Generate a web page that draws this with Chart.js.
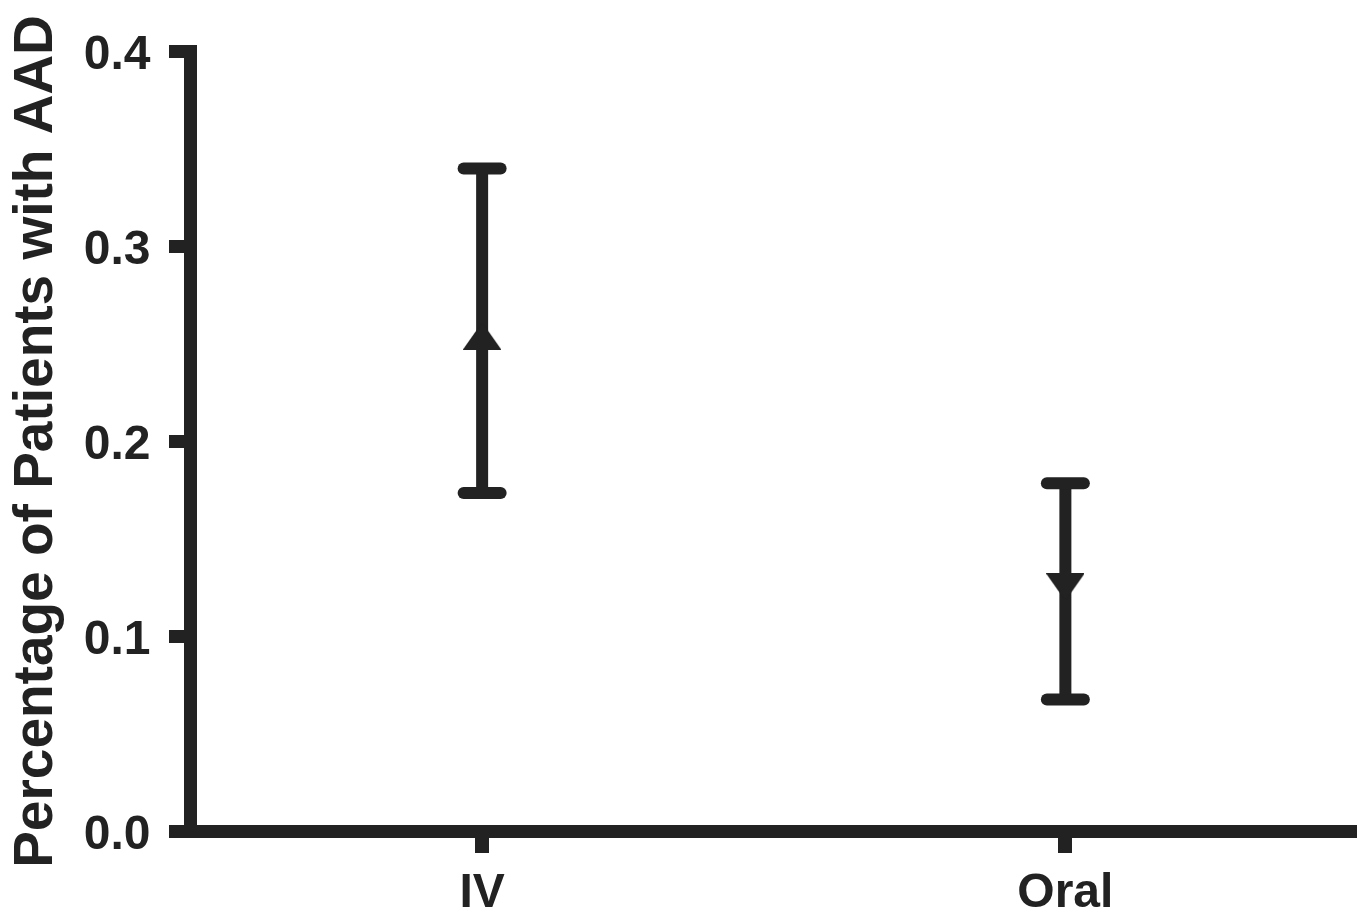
<!DOCTYPE html>
<html>
<head>
<meta charset="utf-8">
<script src="https://cdn.jsdelivr.net/npm/chart.js@4.4.1/dist/chart.umd.min.js"></script>
<style>
  html, body { margin: 0; padding: 0; background: #ffffff; }
  #wrap { width: 1365px; height: 916px; position: relative; }
</style>
</head>
<body>
<div id="wrap"><canvas id="c" width="1365" height="916"></canvas></div>
<script>
// ---- data ----
const categories = ['IV', 'Oral'];
const meanValues = [0.254, 0.1255];
const upperValues = [0.340, 0.1786];
const lowerValues = [0.1736, 0.0677];
const yTickValues = [0.0, 0.1, 0.2, 0.3, 0.4];
const yTitle = 'Percentage of Patients with AAD';

const INK = '#222222';
const FONT = '"Liberation Sans", Arial, Helvetica, sans-serif';

function makeTriangle(up) {
  const w = 38, h = 27;
  const cv = document.createElement('canvas');
  cv.width = w; cv.height = h;
  const g = cv.getContext('2d');
  g.fillStyle = INK;
  g.beginPath();
  if (up) { g.moveTo(w / 2, 0); g.lineTo(w, h); g.lineTo(0, h); }
  else { g.moveTo(0, 0); g.lineTo(w, 0); g.lineTo(w / 2, h); }
  g.closePath();
  g.fill();
  return cv;
}
const markerStyles = [makeTriangle(true), makeTriangle(false)];

const errorBarPlugin = {
  id: 'errorBars',
  afterDatasetsDraw(chart) {
    const ctx = chart.ctx;
    const xs = chart.scales.x, ys = chart.scales.y;
    ctx.save();
    ctx.strokeStyle = INK;
    ctx.lineWidth = 12;
    categories.forEach((c, i) => {
      const x = xs.getPixelForValue(i);
      const yU = ys.getPixelForValue(upperValues[i]);
      const yL = ys.getPixelForValue(lowerValues[i]);
      ctx.lineCap = 'butt';
      ctx.beginPath(); ctx.moveTo(x, yU); ctx.lineTo(x, yL); ctx.stroke();
      ctx.lineCap = 'round';
      ctx.beginPath(); ctx.moveTo(x - 18.5, yU); ctx.lineTo(x + 18.5, yU); ctx.stroke();
      ctx.beginPath(); ctx.moveTo(x - 18.5, yL); ctx.lineTo(x + 18.5, yL); ctx.stroke();
    });
    const meta = chart.getDatasetMeta(0);
    meta.data.forEach((pt, i) => {
      const img = markerStyles[i];
      ctx.drawImage(img, pt.x - img.width / 2, pt.y - img.height / 2);
    });
    ctx.restore();
  },
  afterDraw(chart) {
    // trim the x-axis line so it ends exactly at the plot's right edge
    const a = chart.chartArea;
    const ctx = chart.ctx;
    ctx.save();
    ctx.fillStyle = '#ffffff';
    ctx.fillRect(a.right, a.bottom - 10, chart.width - a.right, 20);
    ctx.restore();
  }
};

new Chart(document.getElementById('c'), {
  type: 'line',
  data: {
    labels: categories,
    datasets: [{
      data: meanValues,
      showLine: false,
      pointStyle: markerStyles,
      pointRadius: 19,
      pointHoverRadius: 19,
      borderColor: INK,
      backgroundColor: INK
    }]
  },
  options: {
    responsive: false,
    animation: false,
    events: [],
    layout: { autoPadding: false, padding: { top: 51.5, right: 8, left: 0, bottom: 0 } },
    plugins: { legend: { display: false }, tooltip: { enabled: false } },
    scales: {
      x: {
        type: 'category',
        offset: true,
        border: { display: true, width: 13, color: INK },
        grid: { display: true, drawOnChartArea: false, drawTicks: true, tickLength: 21.5, lineWidth: 14, color: INK, offset: false },
        ticks: { color: INK, padding: 11.5, font: { family: FONT, size: 48, weight: 'bold' } },
        afterFit(s) { s.height = 916 - 831.5; s.paddingLeft = 0; s.paddingRight = 0; }
      },
      y: {
        type: 'linear',
        min: 0, max: 0.4,
        afterBuildTicks(s) { s.ticks = yTickValues.map(v => ({ value: v })); },
        border: { display: true, width: 13, color: INK },
        grid: { display: true, drawOnChartArea: false, drawTicks: true, tickLength: 21.5, lineWidth: 13, color: INK },
        ticks: {
          color: INK, padding: 18.5, labelOffset: 4,
          font: { family: FONT, size: 48, weight: 'bold' },
          callback: (v) => Number(v).toFixed(1)
        },
        title: {
          display: true, text: yTitle, color: INK,
          font: { family: FONT, size: 55, weight: 'bold' },
          padding: { top: 4, bottom: 0 }
        },
        afterFit(s) { s.width = 190.5; s.paddingTop = 0; s.paddingBottom = 0; }
      }
    }
  },
  plugins: [errorBarPlugin]
});
</script>
</body>
</html>
